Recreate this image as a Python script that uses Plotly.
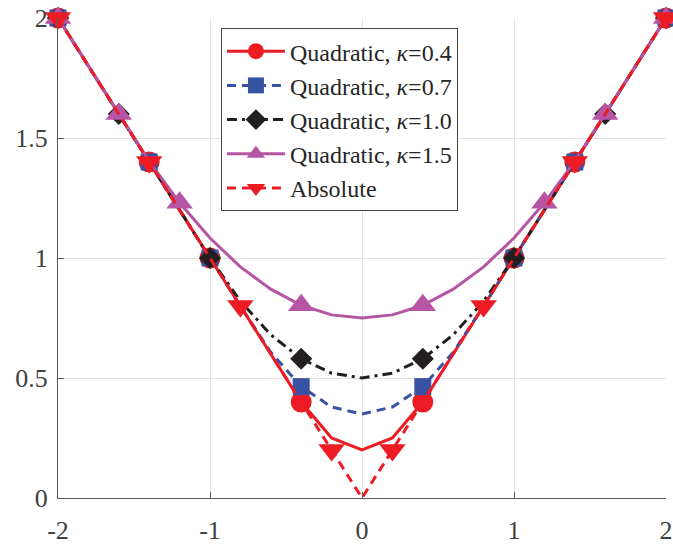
import plotly.graph_objects as go

# ---- data ----
x_grid = [-2.0, -1.8, -1.6, -1.4, -1.2, -1.0, -0.8, -0.6, -0.4, -0.2, 0.0,
          0.2, 0.4, 0.6, 0.8, 1.0, 1.2, 1.4, 1.6, 1.8, 2.0]

quad_k04 = [2.0, 1.8, 1.6, 1.4, 1.2, 1.0, 0.8, 0.6, 0.4, 0.25, 0.2,
            0.25, 0.4, 0.6, 0.8, 1.0, 1.2, 1.4, 1.6, 1.8, 2.0]
quad_k07 = [2.0, 1.8, 1.6, 1.4, 1.2, 1.0, 0.8, 0.607, 0.464, 0.379, 0.35,
            0.379, 0.464, 0.607, 0.8, 1.0, 1.2, 1.4, 1.6, 1.8, 2.0]
quad_k10 = [2.0, 1.8, 1.6, 1.4, 1.2, 1.0, 0.82, 0.68, 0.58, 0.52, 0.5,
            0.52, 0.58, 0.68, 0.82, 1.0, 1.2, 1.4, 1.6, 1.8, 2.0]
quad_k15 = [2.0, 1.8, 1.6, 1.403, 1.23, 1.083, 0.963, 0.87, 0.803, 0.763, 0.75,
            0.763, 0.803, 0.87, 0.963, 1.083, 1.23, 1.403, 1.6, 1.8, 2.0]
absolute = [2.0, 1.8, 1.6, 1.4, 1.2, 1.0, 0.8, 0.6, 0.4, 0.2, 0.0,
            0.2, 0.4, 0.6, 0.8, 1.0, 1.2, 1.4, 1.6, 1.8, 2.0]

mark_k04 = [-2.0, -1.4, -1.0, -0.4, 0.4, 1.0, 1.4, 2.0]
mark_k07 = [-2.0, -1.4, -1.0, -0.4, 0.4, 1.0, 1.4, 2.0]
mark_k10 = [-2.0, -1.6, -1.0, -0.4, 0.4, 1.0, 1.6, 2.0]
mark_k15 = [-2.0, -1.6, -1.2, -0.4, 0.4, 1.2, 1.6, 2.0]
mark_abs = [-2.0, -1.4, -0.8, -0.2, 0.2, 0.8, 1.4, 2.0]

names = ["Quadratic, <i>κ</i>=0.4", "Quadratic, <i>κ</i>=0.7",
         "Quadratic, <i>κ</i>=1.0", "Quadratic, <i>κ</i>=1.5", "Absolute"]

x_ticks = [-2, -1, 0, 1, 2]
x_ticktext = ["-2", "-1", "0", "1", "2"]
y_ticks = [0, 0.5, 1, 1.5, 2]
y_ticktext = ["0", "0.5", "1", "1.5", "2"]

# ---- styles ----
RED = "#ED1C24"
BLUE = "#3953A4"
BLACK = "#231F20"
MAGENTA = "#B655A4"

series = [
    (quad_k04, mark_k04, RED, "solid", "circle", 21),
    (quad_k07, mark_k07, BLUE, "9px,6px", "square", 17),
    (quad_k10, mark_k10, BLACK, "10px,5px,3px,5px", "diamond", 17),
    (quad_k15, mark_k15, MAGENTA, "solid", "triangle-up", 23),
    (absolute, mark_abs, RED, "9px,6px", "triangle-down", 23),
]

fig = go.Figure()
for (ys, mx, col, dash, sym, ms), nm in zip(series, names):
    sizes = [ms if any(abs(x - m) < 1e-9 for m in mx) else 0 for x in x_grid]
    fig.add_trace(go.Scatter(
        x=x_grid, y=ys, mode="lines+markers", showlegend=False,
        line=dict(color=col, width=3, dash=dash),
        marker=dict(symbol=sym, size=sizes, color=col, opacity=1,
                    line=dict(width=0)),
        cliponaxis=False, hoverinfo="skip"))
    fig.add_trace(go.Scatter(
        x=[None], y=[None], mode="lines+markers", name=nm,
        line=dict(color=col, width=3, dash=dash),
        marker=dict(symbol=sym, size=ms, color=col, opacity=1,
                    line=dict(width=0))))

FONT = "Liberation Serif"
axis_common = dict(
    showgrid=True, gridcolor="#e3e3e3", gridwidth=1,
    zeroline=False, showline=True, linecolor="#5a5a5a", linewidth=1,
    ticks="inside", ticklen=6, tickcolor="#5a5a5a", automargin=False,
    tickfont=dict(family=FONT, size=26, color="#404040"),
)

fig.update_layout(
    width=673, height=544,
    margin=dict(l=58, r=7, t=18, b=46),
    paper_bgcolor="white", plot_bgcolor="white",
    font=dict(family=FONT, size=24, color="#262626"),
    xaxis=dict(range=[-2, 2], tickvals=x_ticks, ticktext=x_ticktext,
               ticklabelstandoff=9, **axis_common),
    yaxis=dict(range=[0, 2], tickvals=y_ticks, ticktext=y_ticktext,
               ticklabelstandoff=4, **axis_common),
    legend=dict(x=0.268, y=0.979, xanchor="left", yanchor="top",
                bgcolor="white", bordercolor="#444444", borderwidth=1,
                font=dict(family=FONT, size=24, color="#262626"),
                itemwidth=58, tracegroupgap=0),
)

fig.write_html("out.html")
